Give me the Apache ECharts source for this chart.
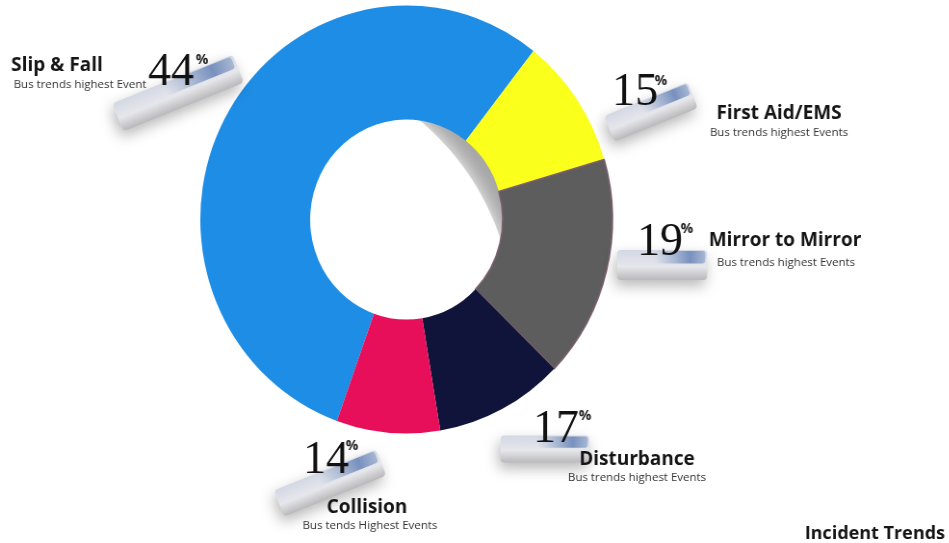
<!DOCTYPE html>
<html>
<head>
<meta charset="utf-8">
<style>
html,body{margin:0;padding:0;background:#fff;overflow:hidden;width:949px;height:543px}
#c{width:985.5px;height:543px;transform-origin:0 0;transform:scaleX(.963);filter:blur(.45px)}
</style>
<script src="https://cdn.jsdelivr.net/npm/echarts@6/dist/echarts.min.js"></script>
</head>
<body>
<div id="c"></div>
<script>
const categories = ['Slip & Fall','First Aid/EMS','Mirror to Mirror','Disturbance','Collision'];
const sliceShares = [55.1, 9.9, 16.8, 10.1, 8.1];
const percentLabels = ['44','15','19','17','14'];
const subtitles = ['Bus trends highest Event','Bus trends highest Events','Bus trends highest Events','Bus trends highest Events','Bus tends Highest Events'];
const chartCaption = 'Incident Trends';
const sliceColors = ['#1e8de6','#fbff1c','#5d5d5d','#10143a','#e80f5a'];

// layout, in page pixels
const squeeze = 0.963;
const percentPos = [[148,50],[612,70],[637,220],[533,407],[303,438]];
const percentSignPos = [[202,60],[661,81],[687,229],[585,416],[352,446]];
const namePos = [[57,66],[779,114],[785,241],[637,460],[367,508]];
const subPos = [[80,85],[779,133],[786,263],[637,478],[370,526]];
const slabs = [[178,93,130,30,22],[651,112,90,28,22],[662,265,90,30,0],[545,449,89,27,0],[330,483,110,28,22]];

const chart = echarts.init(document.getElementById('c'), null, {renderer:'canvas'});
const children = [];
const FONT = '"Open Sans"';

slabs.forEach(function(s){
  const w=s[2], h=s[3];
  children.push({
    type:'group', x:s[0], y:s[1], rotation:s[4]*Math.PI/180,
    children:[
      {type:'rect', z:5, shape:{x:-w/2,y:-h/2,width:w,height:h,r:4},
       style:{fill:{type:'linear',x:0,y:0,x2:0,y2:1,colorStops:[
         {offset:0,color:'#d3d8e4'},{offset:.55,color:'#e6e7ec'},{offset:.7,color:'#d8d8da'},{offset:1,color:'#b9b9bb'}]},
         shadowBlur:14,shadowColor:'rgba(0,0,0,.28)',shadowOffsetY:6,shadowOffsetX:-2}},
      {type:'rect', z:6, shape:{x:-w*0.08,y:-h/2+1,width:w*0.56,height:h*0.42,r:3},
       style:{fill:{type:'linear',x:0,y:0,x2:1,y2:0,colorStops:[
         {offset:0,color:'rgba(110,140,190,0)'},{offset:.7,color:'rgba(95,125,180,.8)'},{offset:1,color:'rgba(150,170,205,.75)'}]}}}
    ]
  });
});

categories.forEach(function(name,i){
  children.push({type:'text',z:10,style:{text:percentLabels[i],x:percentPos[i][0],y:percentPos[i][1],
    font:'46px "Liberation Serif"',fill:'#111',textAlign:'left',textVerticalAlign:'top'}});
  children.push({type:'text',z:10,style:{text:'%',x:percentSignPos[i][0],y:percentSignPos[i][1],
    font:'bold 14px "Open Sans"',fill:'#222',textAlign:'center',textVerticalAlign:'middle'}});
  children.push({type:'text',z:10,style:{text:name,x:namePos[i][0],y:namePos[i][1],
    font:'bold 19px '+FONT,fill:'#151515',textAlign:'center',textVerticalAlign:'middle'}});
  children.push({type:'text',z:10,style:{text:subtitles[i],x:subPos[i][0],y:subPos[i][1],
    font:'11.5px '+FONT,fill:'#333',textAlign:'center',textVerticalAlign:'middle'}});
});
children.push({type:'text',z:10,style:{text:chartCaption,x:945,y:534,
  font:'bold 18px '+FONT,fill:'#151515',textAlign:'right',textVerticalAlign:'middle'}});

chart.setOption({
  animation:false,
  backgroundColor:'#fff',
  graphic:[
    {type:'circle',z:0,shape:{cx:422,cy:221,r:102},style:{fill:'#a6a6a6'},silent:true},
    {type:'circle',z:1,shape:{cx:274,cy:324,r:260},style:{fill:'#fff',shadowBlur:20,shadowColor:'#fff'},silent:true},
    {type:'group',x:0,y:0,scaleX:1/squeeze,children:children}
  ],
  series:[{
    type:'pie',
    z:2,
    center:[422,219.5],
    radius:[100,214],
    startAngle:-109.7,
    clockwise:true,
    silent:true,
    label:{show:false},
    labelLine:{show:false},
    data:categories.map(function(name,i){
      return {name:name,value:sliceShares[i],itemStyle:i===2
        ?{color:sliceColors[i],borderColor:'#7d5f70',borderWidth:1.5}
        :{color:sliceColors[i]}};
    })
  }]
});
</script>
</body>
</html>
